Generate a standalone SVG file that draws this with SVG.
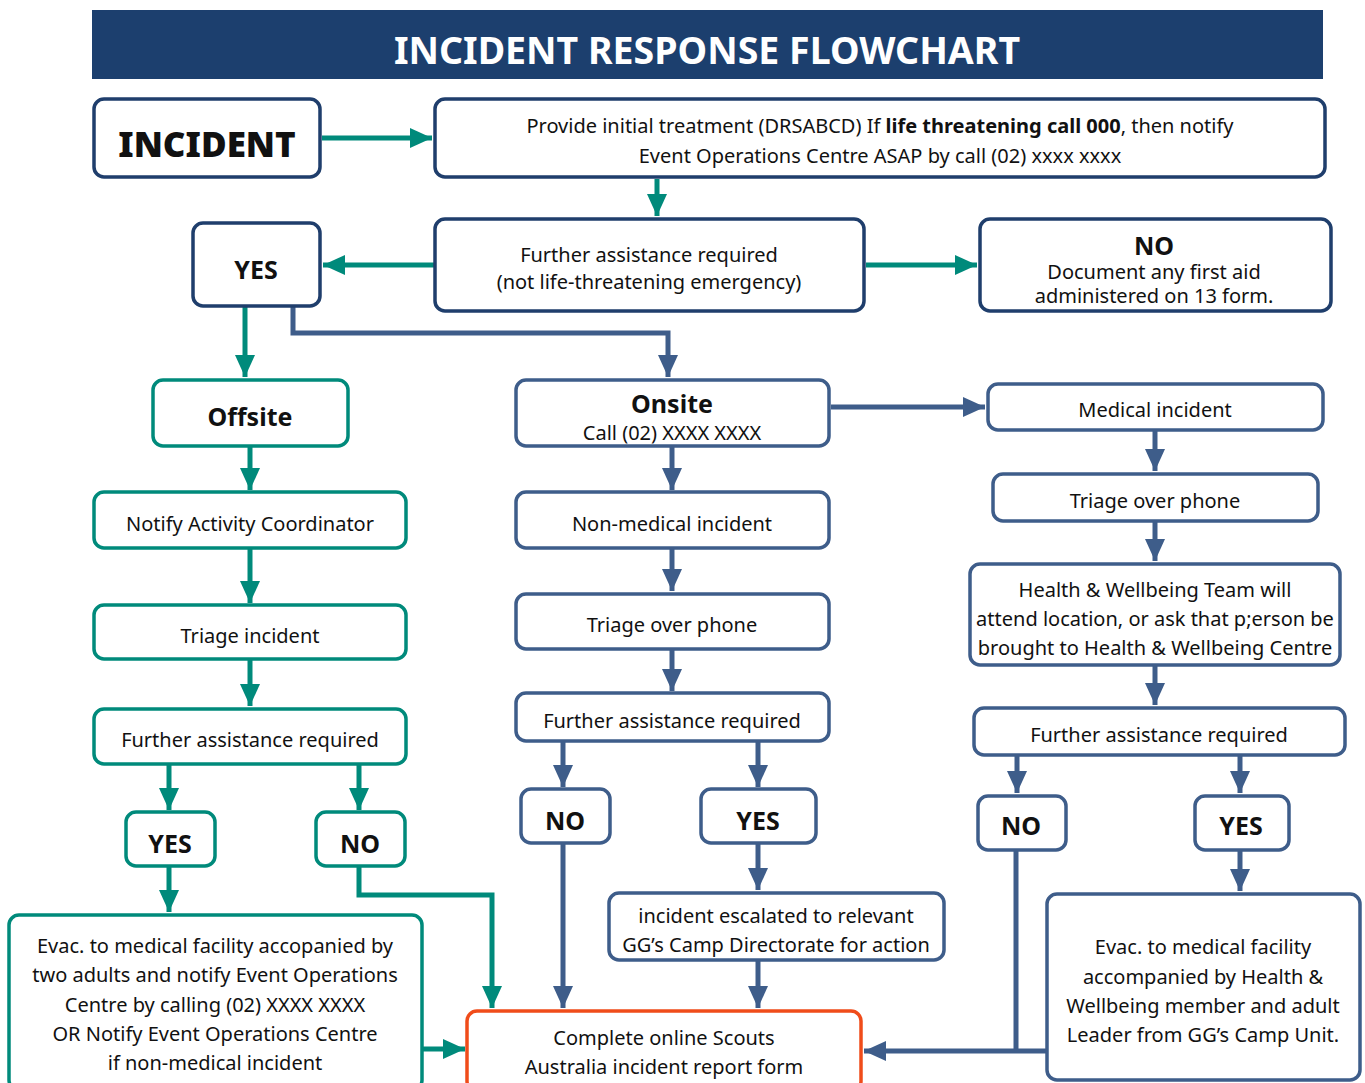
<svg xmlns="http://www.w3.org/2000/svg" width="1365" height="1083" viewBox="0 0 1365 1083">
<style>
text{font-family:"Noto Sans","Open Sans","Liberation Sans",sans-serif;fill:#111;text-anchor:middle}
.t{font-size:20px}
.b{font-weight:bold;font-size:25px}
.navy{fill:#fff;stroke:#1f3e6c;stroke-width:3.5}
.blue{fill:#fff;stroke:#3e5d8a;stroke-width:3.5}
.teal{fill:#fff;stroke:#008a7b;stroke-width:3.5}
.org{fill:#fff;stroke:#f04c1a;stroke-width:3.5}
.ct{fill:none;stroke:#008a7b;stroke-width:5}
.cb{fill:none;stroke:#3e5d8a;stroke-width:5}
</style>
<defs>
<marker id="at" markerUnits="userSpaceOnUse" markerWidth="24" markerHeight="20" refX="22" refY="10" orient="auto"><path d="M0,0 L22,10 L0,20 z" fill="#008a7b"/></marker>
<marker id="ab" markerUnits="userSpaceOnUse" markerWidth="24" markerHeight="20" refX="22" refY="10" orient="auto"><path d="M0,0 L22,10 L0,20 z" fill="#3e5d8a"/></marker>
</defs>
<rect width="1365" height="1083" fill="#fff"/>
<g id="title">
<rect x="92" y="10" width="1231" height="69" fill="#1c3f6e"/>
<text x="707" y="64" style="fill:#fff;font-size:37.5px;font-weight:bold">INCIDENT RESPONSE FLOWCHART</text>
</g>
<g id="connectors">
<line class="ct" x1="322" y1="138" x2="432" y2="138" marker-end="url(#at)"/>
<line class="ct" x1="657" y1="179" x2="657" y2="216" marker-end="url(#at)"/>
<line class="ct" x1="435" y1="265" x2="323" y2="265" marker-end="url(#at)"/>
<line class="ct" x1="866" y1="265" x2="977" y2="265" marker-end="url(#at)"/>
<line class="ct" x1="245" y1="307" x2="245" y2="377" marker-end="url(#at)"/>
<polyline class="cb" points="293,307 293,333 668,333 668,377" marker-end="url(#ab)"/>
<line class="cb" x1="831" y1="407" x2="985" y2="407" marker-end="url(#ab)"/>
<line class="cb" x1="1155" y1="431" x2="1155" y2="471" marker-end="url(#ab)"/>
<line class="cb" x1="1155" y1="522" x2="1155" y2="561" marker-end="url(#ab)"/>
<line class="cb" x1="1155" y1="666" x2="1155" y2="705" marker-end="url(#ab)"/>
<line class="cb" x1="1017" y1="756" x2="1017" y2="793" marker-end="url(#ab)"/>
<line class="cb" x1="1240" y1="756" x2="1240" y2="793" marker-end="url(#ab)"/>
<line class="cb" x1="1240" y1="851" x2="1240" y2="891" marker-end="url(#ab)"/>
<polyline class="cb" points="1016,851 1016,1050"/>
<line class="cb" x1="1047" y1="1051" x2="864" y2="1051" marker-end="url(#ab)"/>
<line class="cb" x1="672" y1="447" x2="672" y2="490" marker-end="url(#ab)"/>
<line class="cb" x1="672" y1="549" x2="672" y2="591" marker-end="url(#ab)"/>
<line class="cb" x1="672" y1="650" x2="672" y2="691" marker-end="url(#ab)"/>
<line class="cb" x1="563" y1="742" x2="563" y2="787" marker-end="url(#ab)"/>
<line class="cb" x1="758" y1="742" x2="758" y2="787" marker-end="url(#ab)"/>
<line class="cb" x1="758" y1="844" x2="758" y2="890" marker-end="url(#ab)"/>
<line class="cb" x1="758" y1="961" x2="758" y2="1008" marker-end="url(#ab)"/>
<line class="cb" x1="563" y1="844" x2="563" y2="1008" marker-end="url(#ab)"/>
<line class="ct" x1="250" y1="447" x2="250" y2="490" marker-end="url(#at)"/>
<line class="ct" x1="250" y1="549" x2="250" y2="603" marker-end="url(#at)"/>
<line class="ct" x1="250" y1="660" x2="250" y2="706" marker-end="url(#at)"/>
<line class="ct" x1="169" y1="765" x2="169" y2="810" marker-end="url(#at)"/>
<line class="ct" x1="359" y1="765" x2="359" y2="810" marker-end="url(#at)"/>
<line class="ct" x1="169" y1="867" x2="169" y2="912" marker-end="url(#at)"/>
<polyline class="ct" points="359,867 359,895 492,895 492,1008" marker-end="url(#at)"/>
<line class="ct" x1="423" y1="1049" x2="465" y2="1049" marker-end="url(#at)"/>
</g>
<g id="incident"><rect class="navy" x="94" y="99" width="226" height="78" rx="10"/><text x="207" y="157" style="font-size:35px;font-weight:900">INCIDENT</text></g>
<g id="initial"><rect class="navy" x="435" y="99" width="890" height="78" rx="10"/>
<text class="t" x="880" y="133">Provide initial treatment (DRSABCD) If <tspan font-weight="bold">life threatening call 000</tspan>, then notify</text>
<text class="t" x="880" y="163">Event Operations Centre ASAP by call (02) xxxx xxxx</text></g>
<g id="further1"><rect class="navy" x="435" y="219" width="429" height="92" rx="10"/>
<text class="t" x="649" y="262">Further assistance required</text>
<text class="t" x="649" y="289">(not life-threatening emergency)</text></g>
<g id="yes1"><rect class="navy" x="193" y="223" width="127" height="83" rx="10"/><text class="b" x="256" y="279">YES</text></g>
<g id="no1"><rect class="navy" x="980" y="219" width="351" height="92" rx="10"/>
<text class="b" x="1154" y="255">NO</text>
<text class="t" x="1154" y="279">Document any first aid</text>
<text class="t" x="1154" y="303">administered on 13 form.</text></g>
<g id="offsite"><rect class="teal" x="153" y="380" width="195" height="66" rx="10"/><text class="b" x="250" y="426">Offsite</text></g>
<g id="onsite"><rect class="blue" x="516" y="380" width="313" height="66" rx="10"/>
<text class="b" x="672" y="413">Onsite</text><text class="t" x="672" y="440">Call (02) XXXX XXXX</text></g>
<g id="medical"><rect class="blue" x="988" y="384" width="335" height="46" rx="10"/><text class="t" x="1155" y="417">Medical incident</text></g>
<g id="triage3"><rect class="blue" x="993" y="474" width="325" height="47" rx="10"/><text class="t" x="1155" y="508">Triage over phone</text></g>
<g id="hw"><rect class="blue" x="970" y="564" width="370" height="101" rx="10"/>
<text class="t" x="1155" y="597">Health &amp; Wellbeing Team will</text>
<text class="t" x="1155" y="626">attend location, or ask that p;erson be</text>
<text class="t" x="1155" y="655">brought to Health &amp; Wellbeing Centre</text></g>
<g id="further3"><rect class="blue" x="974" y="708" width="371" height="47" rx="10"/><text class="t" x="1159" y="742">Further assistance required</text></g>
<g id="no3"><rect class="blue" x="978" y="796" width="88" height="54" rx="10"/><text class="b" x="1021" y="835">NO</text></g>
<g id="yes3"><rect class="blue" x="1195" y="796" width="94" height="54" rx="10"/><text class="b" x="1241" y="835">YES</text></g>
<g id="evac3"><rect class="blue" x="1047" y="894" width="313" height="186" rx="10"/>
<text class="t" x="1203" y="954">Evac. to medical facility</text>
<text class="t" x="1203" y="984">accompanied by Health &amp;</text>
<text class="t" x="1203" y="1013">Wellbeing member and adult</text>
<text class="t" x="1203" y="1042">Leader from GG’s Camp Unit.</text></g>
<g id="nonmed"><rect class="blue" x="516" y="492" width="313" height="56" rx="10"/><text class="t" x="672" y="531">Non-medical incident</text></g>
<g id="triage2"><rect class="blue" x="516" y="594" width="313" height="55" rx="10"/><text class="t" x="672" y="632">Triage over phone</text></g>
<g id="further2"><rect class="blue" x="516" y="693" width="313" height="48" rx="10"/><text class="t" x="672" y="728">Further assistance required</text></g>
<g id="no2"><rect class="blue" x="521" y="789" width="89" height="54" rx="10"/><text class="b" x="565" y="830">NO</text></g>
<g id="yes2"><rect class="blue" x="701" y="789" width="115" height="54" rx="10"/><text class="b" x="758" y="830">YES</text></g>
<g id="escalated"><rect class="blue" x="609" y="893" width="335" height="67" rx="10"/>
<text class="t" x="776" y="923">incident escalated to relevant</text>
<text class="t" x="776" y="952">GG’s Camp Directorate for action</text></g>
<g id="notify"><rect class="teal" x="94" y="492" width="312" height="56" rx="10"/><text class="t" x="250" y="531">Notify Activity Coordinator</text></g>
<g id="triage1"><rect class="teal" x="94" y="605" width="312" height="54" rx="10"/><text class="t" x="250" y="643">Triage incident</text></g>
<g id="further4"><rect class="teal" x="94" y="709" width="312" height="55" rx="10"/><text class="t" x="250" y="747">Further assistance required</text></g>
<g id="yes4"><rect class="teal" x="126" y="812" width="89" height="54" rx="10"/><text class="b" x="170" y="853">YES</text></g>
<g id="no4"><rect class="teal" x="316" y="812" width="89" height="54" rx="10"/><text class="b" x="360" y="853">NO</text></g>
<g id="evac1"><rect class="teal" x="9" y="915" width="413" height="175" rx="10"/>
<text class="t" x="215" y="953">Evac. to medical facility accopanied by</text>
<text class="t" x="215" y="982">two adults and notify Event Operations</text>
<text class="t" x="215" y="1012">Centre by calling (02) XXXX XXXX</text>
<text class="t" x="215" y="1041">OR Notify Event Operations Centre</text>
<text class="t" x="215" y="1070">if non-medical incident</text></g>
<g id="complete"><rect class="org" x="467" y="1011" width="394" height="80" rx="10"/>
<text class="t" x="664" y="1045">Complete online Scouts</text>
<text class="t" x="664" y="1074">Australia incident report form</text></g>
</svg>
